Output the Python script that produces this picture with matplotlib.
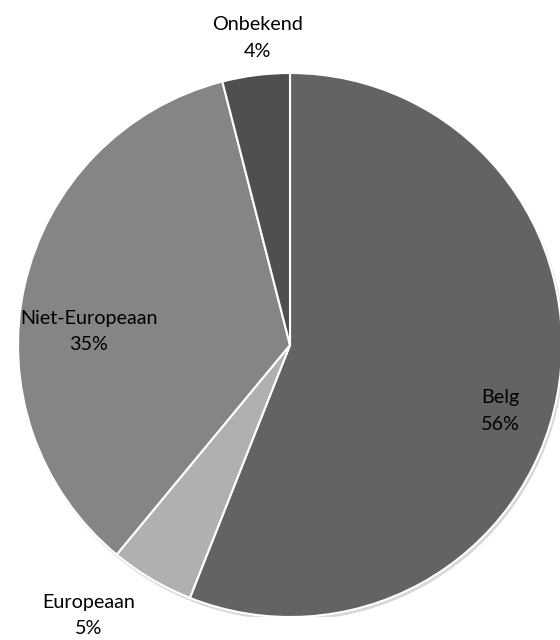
import matplotlib
matplotlib.use("Agg")
import matplotlib.pyplot as plt
from matplotlib.patches import Circle

categories = ["Belg", "Europeaan", "Niet-Europeaan", "Onbekend"]
shares = [56, 5, 35, 4]
colors = ["#636363", "#b0b0b0", "#858585", "#4f4f4f"]

# label anchor points (data units, pie radius = 1)
label_pos = [(0.772, -0.243), (-0.739, -0.995), (-0.739, 0.051), (-0.118, 1.129)]

plt.rcParams["font.family"] = ["Lato", "DejaVu Sans"]

fig = plt.figure(figsize=(5.6, 6.4), dpi=100)
ax = fig.add_axes([18 / 560, 23 / 640, 544 / 560, 544 / 640])
ax.set_aspect("equal")
ax.axis("off")

# soft drop shadow under the pie
ax.add_patch(Circle((0.006, -0.010), 1.0, color="#d8d8d8", zorder=0))

ax.pie(shares, colors=colors, startangle=90, counterclock=False,
       radius=1.0, frame=False,
       wedgeprops=dict(edgecolor="white", linewidth=1.5))
ax.set_xlim(-1, 1)
ax.set_ylim(-1, 1)

for name, val, (x, y) in zip(categories, shares, label_pos):
    ax.text(x, y, f"{name}\n{val}%", ha="center", va="center",
            fontsize=14.2, color="#000000", linespacing=1.66, clip_on=False)

fig.savefig("out.png", dpi=100, facecolor="white")
